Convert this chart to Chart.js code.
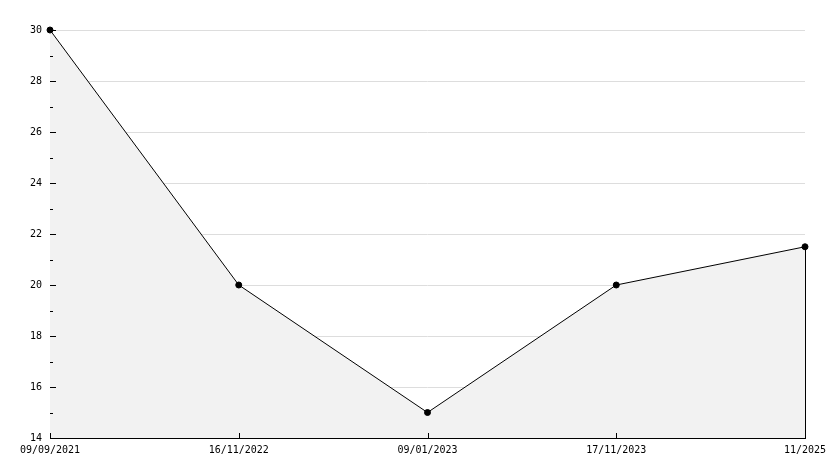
<!DOCTYPE html>
<html>
<head>
<meta charset="utf-8">
<script src="https://cdn.jsdelivr.net/npm/chart.js@4"></script>
<style>
  html, body { margin: 0; padding: 0; background: #ffffff; }
  #wrap { width: 834px; height: 468px; }
</style>
</head>
<body>
<div id="wrap"><canvas id="chart" width="834" height="468"></canvas></div>
<script>
// Données du graphique
const dateLabels = ['09/09/2021', '16/11/2022', '09/01/2023', '17/11/2023', '11/2025'];
const seriesValues = [30, 20, 15, 20, 21.5];
const yMin = 14;
const yMax = 30;

// Lignes de grille horizontales (sous le remplissage)
const gridLines = {
  id: 'gridLines',
  beforeDatasetsDraw(chart) {
    const ctx = chart.ctx;
    const area = chart.chartArea;
    const ys = chart.scales.y;
    ctx.save();
    ctx.strokeStyle = '#dddddd';
    ctx.lineWidth = 1;
    ctx.beginPath();
    ys.ticks.forEach((t, i) => {
      if (t.value % 2 !== 0 || t.value === yMin) return;
      const y = Math.round(ys.getPixelForTick(i)) + 0.5;
      ctx.moveTo(area.left, y);
      ctx.lineTo(area.right, y);
    });
    ctx.stroke();
    ctx.restore();
  }
};

// Petits traits de graduation vers l'intérieur + bord droit de la zone remplie
const innerTicks = {
  id: 'innerTicks',
  afterDraw(chart) {
    const ctx = chart.ctx;
    const area = chart.chartArea;
    const xs = chart.scales.x;
    const ys = chart.scales.y;
    ctx.save();
    ctx.strokeStyle = '#000000';
    ctx.lineWidth = 1;
    ctx.beginPath();
    ys.ticks.forEach((t, i) => {
      const y = Math.round(ys.getPixelForTick(i)) + 0.5;
      const len = t.value % 2 === 0 ? 6 : 3;
      ctx.moveTo(area.left, y);
      ctx.lineTo(area.left + len, y);
    });
    xs.ticks.forEach((t, i) => {
      const x = Math.round(xs.getPixelForTick(i)) + 0.5;
      ctx.moveTo(x, area.bottom);
      ctx.lineTo(x, area.bottom - 5);
    });
    // bord vertical du dernier point jusqu'à l'axe
    const last = seriesValues.length - 1;
    const lx = Math.round(xs.getPixelForValue(last)) + 0.5;
    ctx.moveTo(lx, ys.getPixelForValue(seriesValues[last]));
    ctx.lineTo(lx, area.bottom);
    ctx.stroke();
    ctx.restore();
  }
};

const ctx = document.getElementById('chart').getContext('2d');
new Chart(ctx, {
  type: 'line',
  data: {
    labels: dateLabels,
    datasets: [{
      data: seriesValues,
      borderColor: '#000000',
      borderWidth: 1,
      backgroundColor: '#f2f2f2',
      fill: 'start',
      tension: 0,
      clip: false,
      pointRadius: 3,
      pointStyle: 'circle',
      pointBackgroundColor: '#000000',
      pointBorderColor: '#000000',
      pointBorderWidth: 1
    }]
  },
  plugins: [gridLines, innerTicks],
  options: {
    responsive: false,
    animation: false,
    layout: { padding: { top: 30, right: 29, left: 0, bottom: 0 } },
    plugins: {
      legend: { display: false },
      tooltip: { enabled: false }
    },
    scales: {
      x: {
        type: 'category',
        offset: false,
        afterFit(scale) { scale.height = 30; },
        grid: { display: false, drawTicks: false },
        border: { display: true, color: '#000000', width: 1 },
        ticks: {
          color: '#000000',
          padding: 6,
          maxRotation: 0,
          autoSkip: false,
          font: { family: 'DejaVu Sans Mono', size: 10 }
        }
      },
      y: {
        min: yMin,
        max: yMax,
        afterFit(scale) { scale.width = 50; },
        grid: { display: false, drawTicks: false },
        border: { display: true, color: '#000000', width: 1 },
        ticks: {
          stepSize: 1,
          autoSkip: false,
          color: '#000000',
          padding: 8,
          font: { family: 'DejaVu Sans Mono', size: 10 },
          callback: (v) => (v % 2 === 0 ? String(v) : '')
        }
      }
    }
  }
});
</script>
</body>
</html>
